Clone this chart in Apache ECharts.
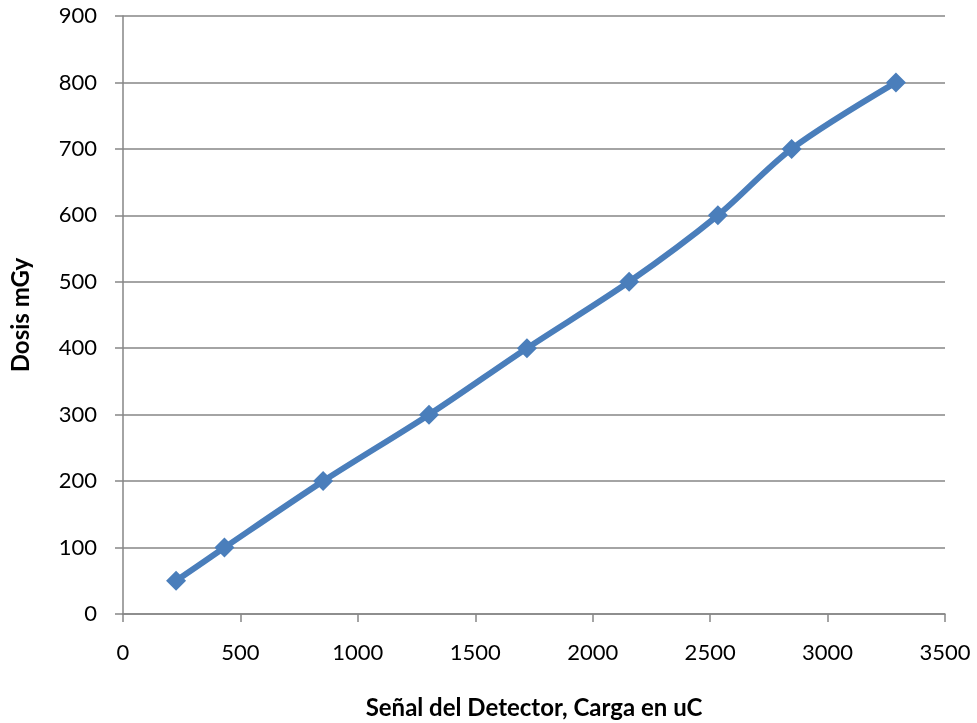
<!DOCTYPE html>
<html>
<head>
<meta charset="utf-8">
<script src="https://cdn.jsdelivr.net/npm/echarts@6/dist/echarts.min.js"></script>
<style>
  html, body { margin: 0; padding: 0; background: #fff; }
  #chart { width: 977px; height: 723px; }
</style>
</head>
<body>
<div id="chart"></div>
<script>
// Detector signal (charge, uC) versus dose (mGy)
const cargaUC = [226, 432, 852, 1303, 1720, 2155, 2533, 2847, 3291];
const dosisMGy = [50, 100, 200, 300, 400, 500, 600, 700, 800];

const fontFam = 'Lato, "Open Sans", sans-serif';
const gris = '#868686';

const chart = echarts.init(document.getElementById('chart'));
chart.setOption({
  animation: false,
  grid: { left: 123, right: 32, top: 16, bottom: 109, outerBoundsMode: 'none' },
  xAxis: {
    type: 'value',
    min: 0, max: 3500, interval: 500,
    name: 'Señal del Detector, Carga en uC',
    nameLocation: 'middle',
    nameGap: 82,
    nameTextStyle: { fontFamily: fontFam, fontSize: 24, fontWeight: 'bold', color: '#000' },
    axisLine: { show: true, lineStyle: { color: gris, width: 1.5 } },
    axisTick: { show: true, length: 8, lineStyle: { color: gris, width: 1.5 } },
    axisLabel: { fontFamily: fontFam, fontSize: 22, color: '#000', margin: 28, formatter: v => String(v) },
    splitLine: { show: false }
  },
  yAxis: {
    type: 'value',
    min: 0, max: 900, interval: 100,
    name: 'Dosis mGy',
    nameLocation: 'middle',
    nameGap: 90,
    nameRotate: 90,
    nameTextStyle: { fontFamily: fontFam, fontSize: 24, fontWeight: 'bold', color: '#000' },
    axisLine: { show: true, lineStyle: { color: gris, width: 1.5 } },
    axisTick: { show: true, length: 8, lineStyle: { color: gris, width: 1.5 } },
    axisLabel: { fontFamily: fontFam, fontSize: 22, color: '#000', margin: 26, formatter: v => String(v) },
    splitLine: { show: true, lineStyle: { color: gris, width: 1.5 } }
  },
  series: [{
    type: 'line',
    data: cargaUC.map((x, i) => [x, dosisMGy[i]]),
    smooth: 0.3,
    symbol: 'diamond',
    symbolSize: 20,
    lineStyle: { color: '#4a7ebb', width: 6 },
    itemStyle: { color: '#4a7ebb' }
  }]
});
</script>
</body>
</html>
